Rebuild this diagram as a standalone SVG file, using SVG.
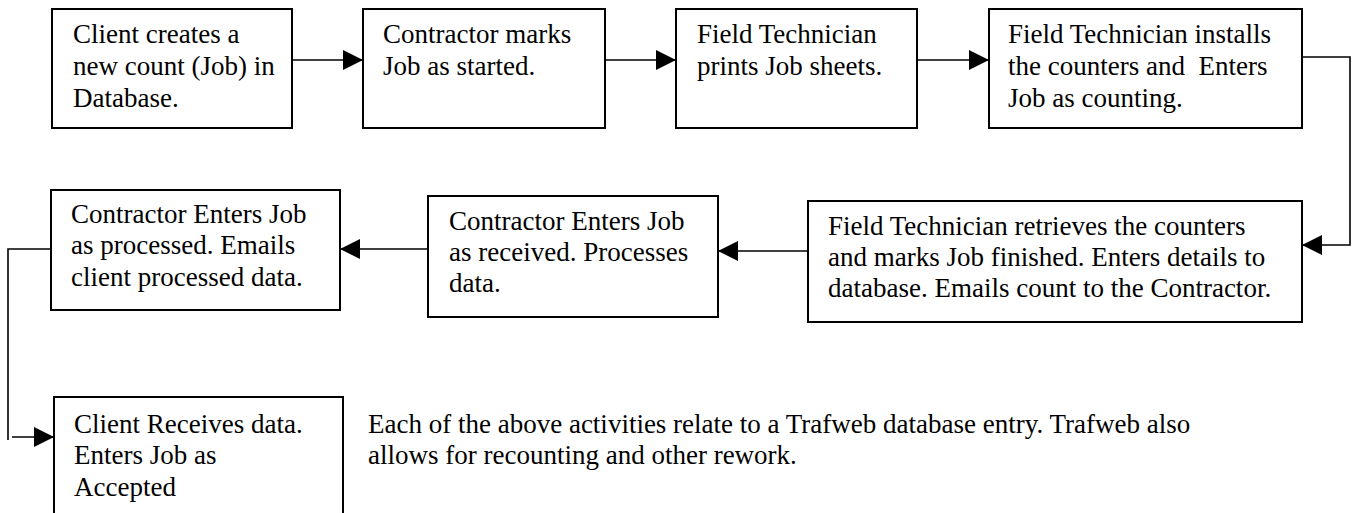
<svg xmlns="http://www.w3.org/2000/svg" width="1357" height="513" viewBox="0 0 1357 513">
<style>
  .box { fill: #fff; stroke: #000; stroke-width: 2; }
  .t { font-family: "Liberation Serif", "Times New Roman", serif; font-size: 27px; fill: #000; }
  .c { fill: none; stroke: #000; stroke-width: 1.6; }
</style>
<defs>
  <marker id="ah" viewBox="0 0 20 20" refX="20" refY="10" markerWidth="20" markerHeight="20" markerUnits="userSpaceOnUse" orient="auto">
    <path d="M0,0 L20,10 L0,20 z" fill="#000"/>
  </marker>
</defs>
<rect width="1357" height="513" fill="#fff"/>

<g id="connectors">
  <line class="c" x1="292" y1="60" x2="363" y2="60" marker-end="url(#ah)"/>
  <line class="c" x1="605" y1="60" x2="676" y2="60" marker-end="url(#ah)"/>
  <line class="c" x1="917" y1="60" x2="989" y2="60" marker-end="url(#ah)"/>
  <polyline class="c" points="1302,57 1350,57 1350,245 1302,245" marker-end="url(#ah)"/>
  <line class="c" x1="808" y1="251" x2="718" y2="251" marker-end="url(#ah)"/>
  <line class="c" x1="428" y1="249" x2="340" y2="249" marker-end="url(#ah)"/>
  <polyline class="c" points="51,249 8,249 8,440"/>
  <line class="c" x1="12" y1="437" x2="54" y2="437" marker-end="url(#ah)"/>
</g>

<g id="n1">
  <rect class="box" x="52" y="9" width="240" height="119"/>
  <text class="t" x="73" y="43">Client creates a</text>
  <text class="t" x="73" y="75">new count (Job) in</text>
  <text class="t" x="73" y="107">Database.</text>
</g>
<g id="n2">
  <rect class="box" x="363" y="9" width="242" height="119"/>
  <text class="t" x="383" y="43">Contractor marks</text>
  <text class="t" x="383" y="75">Job as started.</text>
</g>
<g id="n3">
  <rect class="box" x="676" y="9" width="241" height="119"/>
  <text class="t" x="697" y="43">Field Technician</text>
  <text class="t" x="697" y="75">prints Job sheets.</text>
</g>
<g id="n4">
  <rect class="box" x="989" y="9" width="313" height="119"/>
  <text class="t" x="1008" y="43">Field Technician installs</text>
  <text class="t" x="1008" y="75" xml:space="preserve">the counters and  Enters</text>
  <text class="t" x="1008" y="107">Job as counting.</text>
</g>
<g id="n5">
  <rect class="box" x="808" y="201" width="494" height="121"/>
  <text class="t" x="828" y="235">Field Technician retrieves the counters</text>
  <text class="t" x="828" y="266">and marks Job finished. Enters details to</text>
  <text class="t" x="828" y="297">database. Emails count to the Contractor.</text>
</g>
<g id="n6">
  <rect class="box" x="428" y="196" width="290" height="121"/>
  <text class="t" x="449" y="230">Contractor Enters Job</text>
  <text class="t" x="449" y="261">as received. Processes</text>
  <text class="t" x="449" y="292">data.</text>
</g>
<g id="n7">
  <rect class="box" x="51" y="190" width="289" height="120"/>
  <text class="t" x="71" y="223">Contractor Enters Job</text>
  <text class="t" x="71" y="254">as processed. Emails</text>
  <text class="t" x="71" y="286">client processed data.</text>
</g>
<g id="n8">
  <rect class="box" x="54" y="397" width="289" height="140"/>
  <text class="t" x="74" y="433">Client Receives data.</text>
  <text class="t" x="74" y="464">Enters Job as</text>
  <text class="t" x="74" y="496">Accepted</text>
</g>
<g id="note">
  <text class="t" x="368" y="433">Each of the above activities relate to a Trafweb database entry. Trafweb also</text>
  <text class="t" x="368" y="464">allows for recounting and other rework.</text>
</g>
</svg>
